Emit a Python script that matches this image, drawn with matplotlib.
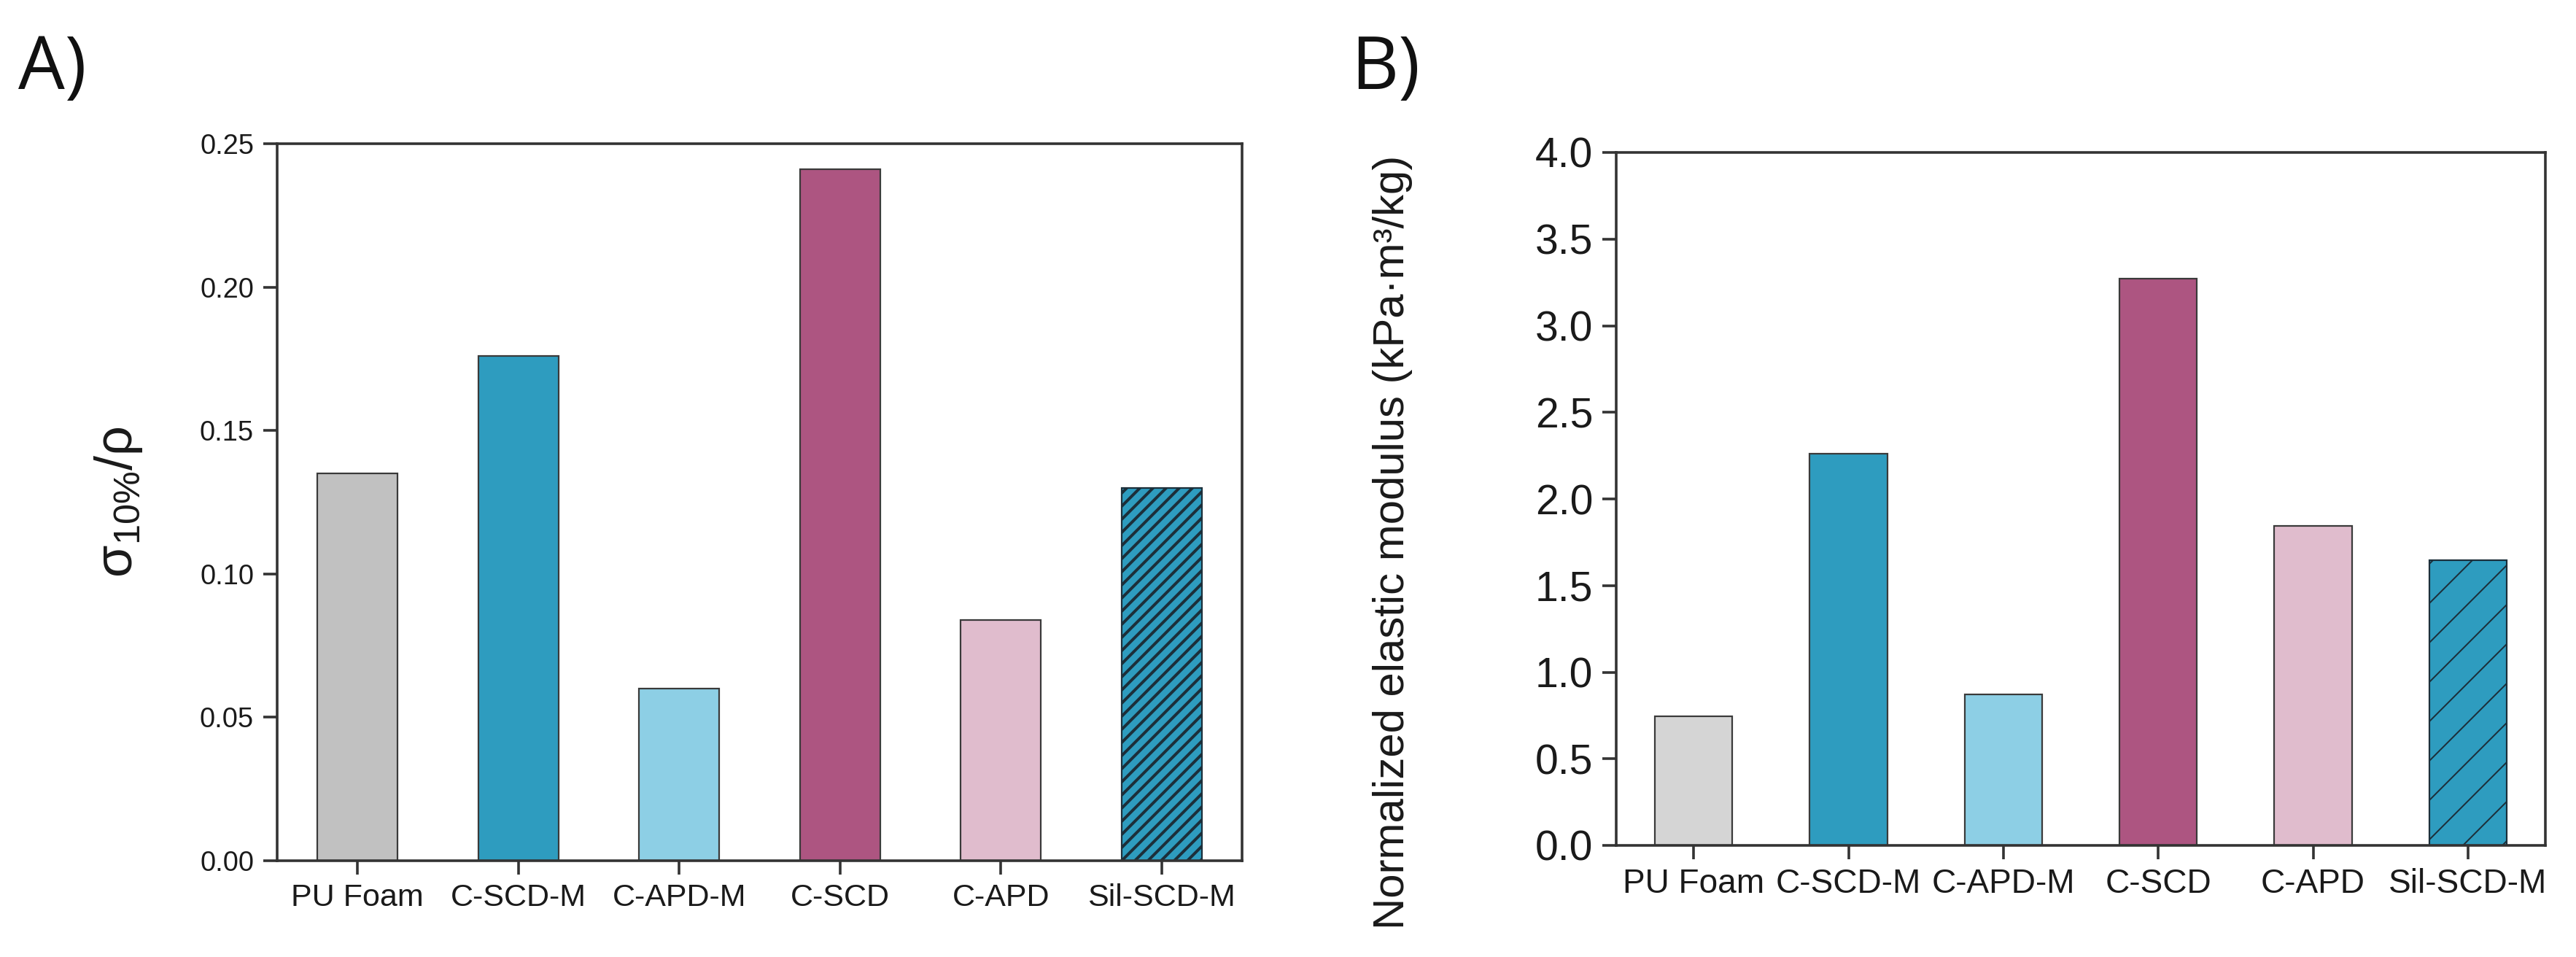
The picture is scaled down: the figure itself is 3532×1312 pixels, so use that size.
import matplotlib
matplotlib.use("Agg")
import matplotlib.pyplot as plt
import numpy as np

# ---- data ----
categories = ["PU Foam", "C-SCD-M", "C-APD-M", "C-SCD", "C-APD", "Sil-SCD-M"]
strength_density = [0.135, 0.176, 0.060, 0.241, 0.084, 0.130]      # panel A
norm_modulus = [0.745, 2.26, 0.87, 3.27, 1.845, 1.645]               # panel B
colors_a = ["#c1c1c1", "#2e9cbf", "#8dcfe5", "#ad5581", "#e0bccd", "#2e9cbf"]
colors_b = ["#d5d5d5", "#2e9cbf", "#8dcfe5", "#ad5581", "#e0bccd", "#2e9cbf"]
hatches_a = [None, None, None, None, None, "///"]
hatches_b = [None, None, None, None, None, "/"]
yticks_a = [0.00, 0.05, 0.10, 0.15, 0.20, 0.25]
yticks_b = [0.0, 0.5, 1.0, 1.5, 2.0, 2.5, 3.0, 3.5, 4.0]

DPI = 162
W, H = 3532, 1312
plt.rcParams['font.family'] = ['Liberation Sans', 'DejaVu Sans']
plt.rcParams['mathtext.fontset'] = 'dejavusans'

fig = plt.figure(figsize=(W / DPI, H / DPI), dpi=DPI)

SP_COL = "#333333"


def px(v):
    return v * 72.0 / DPI


def make_axes(rect, values, colors, hatches, yticks, fmt, ytick_fs, xtick_fs, hatch_lw):
    ax = fig.add_axes(rect)
    x = np.arange(1, len(values) + 1)
    for xi, v, c, h in zip(x, values, colors, hatches):
        bars = ax.bar(xi, v, width=0.5, color=c, edgecolor="#3a3a3a",
                      linewidth=px(2.2), hatch=h, zorder=2)
        if h:
            for b in bars:
                b.set_edgecolor("#1c2f3a")
                try:
                    b.set_hatch_linewidth(hatch_lw)
                except Exception:
                    pass
    ax.set_xlim(0.5, len(values) + 0.5)
    ax.set_ylim(yticks[0], yticks[-1])
    ax.set_xticks(x)
    ax.set_xticklabels(categories, fontsize=xtick_fs)
    ax.set_yticks(yticks)
    ax.set_yticklabels([fmt.format(t) for t in yticks], fontsize=ytick_fs)
    for s in ax.spines.values():
        s.set_linewidth(px(3.6))
        s.set_color(SP_COL)
    ax.tick_params(axis='both', which='both', direction='out', length=px(19),
                   width=px(3.6), color=SP_COL, top=False, right=False,
                   labelcolor="#1a1a1a")
    ax.tick_params(axis='y', pad=px(13))
    ax.tick_params(axis='x', pad=px(12))
    return ax


# Panel A
plt.rcParams['hatch.linewidth'] = px(4.0)
axA = make_axes([380 / W, 1 - 1180 / H, (1703 - 380) / W, (1180 - 197) / H],
                strength_density, colors_a, hatches_a, yticks_a, "{:.2f}",
                px(38), px(43), px(4.0))
axA.set_ylabel(r"$\mathregular{\sigma_{10\%}/\rho}$", fontsize=px(72), color="#1a1a1a")
axA.yaxis.set_label_coords((198 - 380) / (1703 - 380), 0.5)

# Panel B
plt.rcParams['hatch.linewidth'] = px(2.0)
axB = make_axes([2216 / W, 1 - 1159 / H, (3490 - 2216) / W, (1159 - 209) / H],
                norm_modulus, colors_b, hatches_b, yticks_b, "{:.1f}",
                px(57), px(46), px(2.0))
axB.set_ylabel("Normalized elastic modulus (kPa·m³/kg)", fontsize=px(60), color="#1a1a1a")
axB.yaxis.set_label_coords((1937 - 2216) / (3490 - 2216), (1159 - 743) / (1159 - 209))

# Panel letters
fig.text(25 / W, 1 - 122 / H, "A)", fontsize=px(101), family=['Open Sans', 'DejaVu Sans'],
         ha='left', va='baseline', color="#111111")
fig.text(1852 / W, 1 - 122 / H, "B)", fontsize=px(101), family=['Open Sans', 'DejaVu Sans'],
         ha='left', va='baseline', color="#111111")

fig.savefig("out.png", dpi=DPI, facecolor="white")
